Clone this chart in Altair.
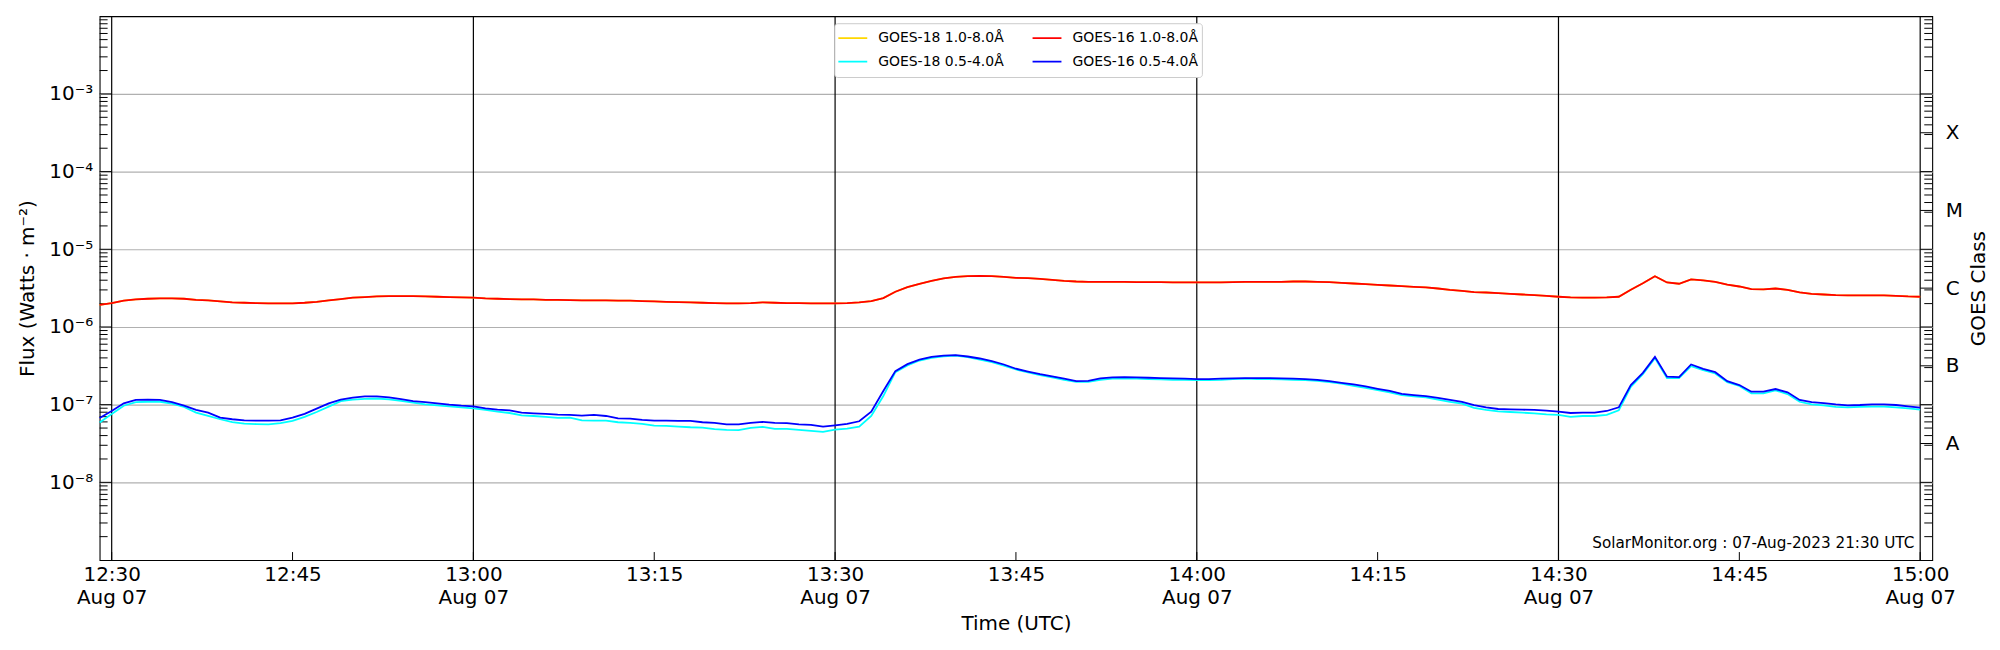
import altair as alt
import pandas as pd

FONT = "DejaVu Sans"
W, H = 1840, 546

# ---------------- data (1-minute cadence, 12:29 .. 15:00 UTC, 07-Aug-2023) ----------------
start_minute = 12 * 60 + 29
n_points = 152
times = [f"2023-08-07T{(start_minute + i) // 60:02d}:{(start_minute + i) % 60:02d}:00Z" for i in range(n_points)]

g16_long = [
    1.93e-6, 2.03e-6, 2.18e-6, 2.26e-6, 2.31e-6, 2.33e-6, 2.33e-6, 2.31e-6, 2.24e-6, 2.20e-6,
    2.13e-6, 2.07e-6, 2.05e-6, 2.03e-6, 2.01e-6, 2.01e-6, 2.01e-6, 2.05e-6, 2.11e-6, 2.20e-6,
    2.28e-6, 2.38e-6, 2.42e-6, 2.47e-6, 2.49e-6, 2.49e-6, 2.49e-6, 2.47e-6, 2.45e-6, 2.42e-6,
    2.40e-6, 2.38e-6, 2.33e-6, 2.31e-6, 2.28e-6, 2.26e-6, 2.26e-6, 2.24e-6, 2.24e-6, 2.22e-6,
    2.20e-6, 2.20e-6, 2.20e-6, 2.18e-6, 2.18e-6, 2.15e-6, 2.13e-6, 2.11e-6, 2.09e-6, 2.07e-6,
    2.05e-6, 2.03e-6, 2.01e-6, 2.01e-6, 2.03e-6, 2.07e-6, 2.05e-6, 2.03e-6, 2.03e-6, 2.01e-6,
    2.01e-6, 2.01e-6, 2.03e-6, 2.07e-6, 2.15e-6, 2.35e-6, 2.84e-6, 3.26e-6, 3.60e-6, 3.93e-6,
    4.21e-6, 4.42e-6, 4.51e-6, 4.56e-6, 4.51e-6, 4.42e-6, 4.29e-6, 4.25e-6, 4.17e-6, 4.05e-6,
    3.93e-6, 3.85e-6, 3.81e-6, 3.81e-6, 3.81e-6, 3.81e-6, 3.78e-6, 3.78e-6, 3.78e-6, 3.74e-6,
    3.74e-6, 3.74e-6, 3.74e-6, 3.74e-6, 3.78e-6, 3.81e-6, 3.81e-6, 3.81e-6, 3.81e-6, 3.85e-6,
    3.85e-6, 3.81e-6, 3.78e-6, 3.70e-6, 3.63e-6, 3.56e-6, 3.49e-6, 3.42e-6, 3.36e-6, 3.29e-6,
    3.23e-6, 3.13e-6, 3.01e-6, 2.92e-6, 2.81e-6, 2.78e-6, 2.73e-6, 2.67e-6, 2.62e-6, 2.57e-6,
    2.52e-6, 2.45e-6, 2.40e-6, 2.38e-6, 2.38e-6, 2.40e-6, 2.45e-6, 3.01e-6, 3.66e-6, 4.51e-6,
    3.74e-6, 3.60e-6, 4.09e-6, 3.97e-6, 3.81e-6, 3.52e-6, 3.32e-6, 3.07e-6, 3.04e-6, 3.13e-6,
    3.01e-6, 2.78e-6, 2.67e-6, 2.62e-6, 2.57e-6, 2.55e-6, 2.55e-6, 2.55e-6, 2.55e-6, 2.52e-6,
    2.47e-6, 2.45e-6,
]

g18_long = [
    1.93e-6, 2.03e-6, 2.18e-6, 2.26e-6, 2.31e-6, 2.33e-6, 2.33e-6, 2.31e-6, 2.24e-6, 2.20e-6,
    2.13e-6, 2.07e-6, 2.05e-6, 2.03e-6, 2.01e-6, 2.01e-6, 2.01e-6, 2.05e-6, 2.11e-6, 2.20e-6,
    2.28e-6, 2.38e-6, 2.42e-6, 2.47e-6, 2.49e-6, 2.49e-6, 2.49e-6, 2.47e-6, 2.45e-6, 2.42e-6,
    2.40e-6, 2.38e-6, 2.33e-6, 2.31e-6, 2.28e-6, 2.26e-6, 2.26e-6, 2.24e-6, 2.24e-6, 2.22e-6,
    2.20e-6, 2.20e-6, 2.20e-6, 2.18e-6, 2.18e-6, 2.15e-6, 2.13e-6, 2.11e-6, 2.09e-6, 2.07e-6,
    2.05e-6, 2.03e-6, 2.01e-6, 2.01e-6, 2.03e-6, 2.07e-6, 2.05e-6, 2.03e-6, 2.03e-6, 2.01e-6,
    2.01e-6, 2.01e-6, 2.03e-6, 2.07e-6, 2.15e-6, 2.35e-6, 2.84e-6, 3.26e-6, 3.60e-6, 3.93e-6,
    4.21e-6, 4.42e-6, 4.51e-6, 4.56e-6, 4.51e-6, 4.42e-6, 4.29e-6, 4.25e-6, 4.17e-6, 4.05e-6,
    3.93e-6, 3.85e-6, 3.81e-6, 3.81e-6, 3.81e-6, 3.81e-6, 3.78e-6, 3.78e-6, 3.78e-6, 3.74e-6,
    3.74e-6, 3.74e-6, 3.74e-6, 3.74e-6, 3.78e-6, 3.81e-6, 3.81e-6, 3.81e-6, 3.81e-6, 3.85e-6,
    3.85e-6, 3.81e-6, 3.78e-6, 3.70e-6, 3.63e-6, 3.56e-6, 3.49e-6, 3.42e-6, 3.36e-6, 3.29e-6,
    3.23e-6, 3.13e-6, 3.01e-6, 2.92e-6, 2.81e-6, 2.78e-6, 2.73e-6, 2.67e-6, 2.62e-6, 2.57e-6,
    2.52e-6, 2.45e-6, 2.40e-6, 2.38e-6, 2.38e-6, 2.40e-6, 2.45e-6, 3.01e-6, 3.66e-6, 4.51e-6,
    3.74e-6, 3.60e-6, 4.09e-6, 3.97e-6, 3.81e-6, 3.52e-6, 3.32e-6, 3.07e-6, 3.04e-6, 3.13e-6,
    3.01e-6, 2.78e-6, 2.67e-6, 2.62e-6, 2.57e-6, 2.55e-6, 2.55e-6, 2.55e-6, 2.55e-6, 2.52e-6,
    2.47e-6, 2.45e-6,
]

g16_short = [
    6.75e-8, 8.29e-8, 1.04e-7, 1.15e-7, 1.16e-7, 1.15e-7, 1.08e-7, 9.70e-8, 8.55e-8, 7.89e-8,
    6.81e-8, 6.49e-8, 6.29e-8, 6.23e-8, 6.23e-8, 6.29e-8, 6.80e-8, 7.60e-8, 8.90e-8, 1.04e-7,
    1.16e-7, 1.23e-7, 1.28e-7, 1.28e-7, 1.24e-7, 1.18e-7, 1.11e-7, 1.08e-7, 1.04e-7, 1.00e-7,
    9.70e-8, 9.52e-8, 8.97e-8, 8.63e-8, 8.46e-8, 7.89e-8, 7.74e-8, 7.60e-8, 7.45e-8, 7.38e-8,
    7.23e-8, 7.38e-8, 7.15e-8, 6.68e-8, 6.62e-8, 6.36e-8, 6.23e-8, 6.23e-8, 6.17e-8, 6.17e-8,
    5.94e-8, 5.82e-8, 5.59e-8, 5.59e-8, 5.82e-8, 6.00e-8, 5.82e-8, 5.77e-8, 5.59e-8, 5.49e-8,
    5.22e-8, 5.43e-8, 5.65e-8, 6.11e-8, 8.13e-8, 1.50e-7, 2.70e-7, 3.32e-7, 3.81e-7, 4.12e-7,
    4.29e-7, 4.33e-7, 4.17e-7, 3.93e-7, 3.63e-7, 3.29e-7, 2.90e-7, 2.67e-7, 2.47e-7, 2.31e-7,
    2.16e-7, 2.01e-7, 2.03e-7, 2.18e-7, 2.24e-7, 2.26e-7, 2.24e-7, 2.22e-7, 2.20e-7, 2.18e-7,
    2.16e-7, 2.13e-7, 2.13e-7, 2.16e-7, 2.18e-7, 2.20e-7, 2.20e-7, 2.20e-7, 2.18e-7, 2.16e-7,
    2.13e-7, 2.09e-7, 2.01e-7, 1.91e-7, 1.82e-7, 1.72e-7, 1.60e-7, 1.50e-7, 1.38e-7, 1.33e-7,
    1.29e-7, 1.22e-7, 1.15e-7, 1.09e-7, 9.90e-8, 9.24e-8, 8.80e-8, 8.71e-8, 8.63e-8, 8.55e-8,
    8.38e-8, 8.13e-8, 7.81e-8, 7.89e-8, 7.89e-8, 8.29e-8, 9.24e-8, 1.79e-7, 2.57e-7, 4.12e-7,
    2.29e-7, 2.26e-7, 3.29e-7, 2.89e-7, 2.62e-7, 2.01e-7, 1.79e-7, 1.47e-7, 1.47e-7, 1.59e-7,
    1.44e-7, 1.15e-7, 1.08e-7, 1.05e-7, 1.01e-7, 9.80e-8, 9.90e-8, 1.01e-7, 1.01e-7, 9.90e-8,
    9.52e-8, 9.15e-8,
]

g18_short = [
    5.88e-8, 7.60e-8, 9.70e-8, 1.08e-7, 1.09e-7, 1.09e-7, 1.03e-7, 9.34e-8, 7.89e-8, 7.15e-8,
    6.49e-8, 5.95e-8, 5.70e-8, 5.62e-8, 5.56e-8, 5.77e-8, 6.20e-8, 6.95e-8, 8.05e-8, 9.43e-8,
    1.11e-7, 1.16e-7, 1.19e-7, 1.20e-7, 1.17e-7, 1.12e-7, 1.06e-7, 1.01e-7, 9.80e-8, 9.52e-8,
    9.24e-8, 8.97e-8, 8.55e-8, 8.13e-8, 7.81e-8, 7.29e-8, 7.15e-8, 6.95e-8, 6.75e-8, 6.81e-8,
    6.29e-8, 6.23e-8, 6.23e-8, 5.94e-8, 5.82e-8, 5.65e-8, 5.38e-8, 5.33e-8, 5.22e-8, 5.12e-8,
    5.07e-8, 4.83e-8, 4.73e-8, 4.69e-8, 5.02e-8, 5.17e-8, 4.88e-8, 4.88e-8, 4.73e-8, 4.59e-8,
    4.46e-8, 4.78e-8, 4.93e-8, 5.22e-8, 7.15e-8, 1.29e-7, 2.62e-7, 3.19e-7, 3.70e-7, 4.00e-7,
    4.20e-7, 4.29e-7, 4.08e-7, 3.81e-7, 3.52e-7, 3.19e-7, 2.84e-7, 2.60e-7, 2.40e-7, 2.24e-7,
    2.09e-7, 1.97e-7, 1.97e-7, 2.09e-7, 2.16e-7, 2.18e-7, 2.16e-7, 2.13e-7, 2.11e-7, 2.09e-7,
    2.09e-7, 2.07e-7, 2.07e-7, 2.09e-7, 2.13e-7, 2.16e-7, 2.13e-7, 2.13e-7, 2.11e-7, 2.09e-7,
    2.07e-7, 2.03e-7, 1.95e-7, 1.86e-7, 1.75e-7, 1.65e-7, 1.54e-7, 1.44e-7, 1.33e-7, 1.28e-7,
    1.24e-7, 1.16e-7, 1.09e-7, 1.03e-7, 9.10e-8, 8.55e-8, 8.21e-8, 8.05e-8, 7.89e-8, 7.74e-8,
    7.52e-8, 7.38e-8, 6.95e-8, 7.15e-8, 7.15e-8, 7.38e-8, 8.46e-8, 1.70e-7, 2.47e-7, 3.97e-7,
    2.20e-7, 2.20e-7, 3.13e-7, 2.78e-7, 2.52e-7, 1.95e-7, 1.74e-7, 1.40e-7, 1.40e-7, 1.53e-7,
    1.37e-7, 1.09e-7, 1.01e-7, 9.80e-8, 9.34e-8, 9.24e-8, 9.34e-8, 9.43e-8, 9.43e-8, 9.24e-8,
    8.97e-8, 8.63e-8,
]

# legend order (row-major, 2 columns) and colours
legend_names = ["GOES-18 1.0-8.0Å", "GOES-18 0.5-4.0Å", "GOES-16 1.0-8.0Å", "GOES-16 0.5-4.0Å"]
legend_colors = ["#ffd700", "#00ffff", "#ff0000", "#0000ff"]
# drawing order
draw_order = [
    ("GOES-18 1.0-8.0Å", g18_long),
    ("GOES-16 1.0-8.0Å", g16_long),
    ("GOES-18 0.5-4.0Å", g18_short),
    ("GOES-16 0.5-4.0Å", g16_short),
]

# axes / ticks
x_tick_times = ["12:30", "12:45", "13:00", "13:15", "13:30", "13:45", "14:00",
                "14:15", "14:30", "14:45", "15:00"]
half_hour_times = ["12:30", "13:00", "13:30", "14:00", "14:30", "15:00"]
y_major_values = [1e-8, 1e-7, 1e-6, 1e-5, 1e-4, 1e-3]
y_major_labels = ["10⁻⁸", "10⁻⁷", "10⁻⁶", "10⁻⁵", "10⁻⁴", "10⁻³"]
y_minor_values = [m * 10.0 ** e for e in range(-9, -2) for m in range(2, 10)]
class_values = [10 ** -7.5, 10 ** -6.5, 10 ** -5.5, 10 ** -4.5, 10 ** -3.5]
class_labels = ["A", "B", "C", "M", "X"]
annotation = "SolarMonitor.org : 07-Aug-2023 21:30 UTC"

# ---------------- build ----------------
rows = []
for name, vals in draw_order:
    for t, v in zip(times, vals):
        rows.append({"time": t, "flux": v, "series": name})
df = pd.DataFrame(rows)


def dt(hm):
    h, m = hm.split(":")
    return alt.DateTime(year=2023, month=8, date=7, hours=int(h), minutes=int(m), utc=True)


x_scale = alt.Scale(type="utc", domain=[dt("12:29"), dt("15:01")], nice=False)
y_scale = alt.Scale(type="log", domain=[1e-9, 1e-2], nice=False)

x_label_expr = (
    "(utcFormat(datum.value, '%M') == '15' || utcFormat(datum.value, '%M') == '45') ? "
    "utcFormat(datum.value, '%H:%M') : "
    "[utcFormat(datum.value, '%H:%M'), utcFormat(datum.value, '%b %d')]"
)
x_axis = alt.Axis(
    values=[dt(t) for t in x_tick_times], labelExpr=x_label_expr,
    ticks=False, domain=False, grid=False,
    labelFont=FONT, labelFontSize=20, labelColor="black", labelPadding=5,
    labelLineHeight=22.5, labelBaseline="top", labelFlush=False, labelOverlap=False,
    title="Time (UTC)", titleFont=FONT, titleFontSize=20, titleFontWeight="normal",
    titleColor="black", titleBaseline="alphabetic", titleY=70, titleX=W / 2, titleAlign="center",
)

y_expr = " : ".join(
    f"datum.value < {v * 3:.3g} ? '{lab}'" for v, lab in zip(y_major_values[:-1], y_major_labels[:-1])
) + f" : '{y_major_labels[-1]}'"
y_axis = alt.Axis(
    values=y_major_values, labelExpr=y_expr,
    ticks=False, domain=False, grid=True, gridColor="#b0b0b0", gridWidth=1.1,
    labelFont=FONT, labelFontSize=20, labelColor="black", labelPadding=7,
    labelBaseline="middle", labelFlush=False, labelOverlap=False,
    title="Flux (Watts · m⁻²)", titleFont=FONT, titleFontSize=20, titleFontWeight="normal",
    titleColor="black", titleAngle=270, titleBaseline="alphabetic", titleX=-66, titleY=H / 2,
    titleAlign="center",
)

class_expr = " : ".join(
    f"datum.value < {v * 1.5:.3g} ? '{lab}'" for v, lab in zip(class_values[:-1], class_labels[:-1])
) + f" : '{class_labels[-1]}'"
right_axis = alt.Axis(
    orient="right", values=class_values, labelExpr=class_expr,
    ticks=False, domain=False, grid=False,
    labelFont=FONT, labelFontSize=20, labelColor="black", labelPadding=13,
    labelBaseline="middle", labelAlign="left", labelFlush=False, labelOverlap=False,
    title="GOES Class", titleFont=FONT, titleFontSize=20, titleFontWeight="normal",
    titleColor="black", titleAngle=270, titleBaseline="alphabetic", titleX=52, titleY=H / 2,
    titleAlign="center",
)

legend = alt.Legend(
    title=None, orient="none", legendX=737.7, legendY=7, columns=2,
    symbolType="stroke", symbolSize=841, symbolStrokeWidth=1.8,
    labelFont=FONT, labelFontSize=14, labelColor="black", labelOffset=10, labelLimit=300,
    columnPadding=27, rowPadding=0, clipHeight=23.3, padding=3,
    strokeColor="#cccccc", fillColor="white", cornerRadius=3,
)
color = alt.Color("series:N", scale=alt.Scale(domain=legend_names, range=legend_colors), legend=legend)

X_T = alt.X("t:T", scale=x_scale, axis=x_axis)
Y_LEFT = alt.Y("v:Q", scale=y_scale, axis=y_axis)
Y_RIGHT = alt.Y("v:Q", scale=y_scale, axis=right_axis)

base = alt.Chart(df)
series_layers = [
    base.transform_filter(alt.datum.series == name).mark_line(strokeWidth=1.8).encode(
        x=alt.X("time:T", scale=x_scale, axis=x_axis),
        y=alt.Y("flux:Q", scale=y_scale, axis=y_axis),
        color=color,
    )
    for name, _ in draw_order
]

vlines = alt.Chart(pd.DataFrame({"t": [f"2023-08-07T{t}:00Z" for t in half_hour_times]})).mark_rule(
    color="black", strokeWidth=1.2
).encode(x=X_T)

xticks = alt.Chart(pd.DataFrame({"t": [f"2023-08-07T{t}:00Z" for t in x_tick_times]})).mark_rule(
    color="black", strokeWidth=1
).encode(x=X_T, y=alt.value(H - 8), y2=alt.value(H))

left_major = alt.Chart(pd.DataFrame({"v": y_major_values})).mark_rule(color="black", strokeWidth=1).encode(
    y=Y_LEFT, x=alt.value(0), x2=alt.value(12))
left_minor = alt.Chart(pd.DataFrame({"v": y_minor_values})).mark_rule(color="black", strokeWidth=1).encode(
    y=Y_LEFT, x=alt.value(0), x2=alt.value(8))

note = alt.Chart(pd.DataFrame({"label": [annotation]})).mark_text(
    align="right", baseline="alphabetic", font=FONT, fontSize=15.3, color="black"
).encode(x=alt.value(1822), y=alt.value(534.3), text="label:N")

inner = alt.layer(vlines, xticks, left_major, left_minor, *series_layers, note)

right_major = alt.Chart(pd.DataFrame({"v": y_major_values + class_values})).mark_rule(
    color="black", strokeWidth=1
).encode(y=Y_RIGHT, x=alt.value(W - 12), x2=alt.value(W))
right_minor = alt.Chart(pd.DataFrame({"v": y_minor_values})).mark_rule(color="black", strokeWidth=1).encode(
    y=Y_RIGHT, x=alt.value(W - 8), x2=alt.value(W))
right_group = alt.layer(right_major, right_minor)

chart = alt.layer(inner, right_group).resolve_scale(y="independent").properties(
    width=W, height=H,
    padding={"left": 92, "top": 7, "right": 60, "bottom": 76},
    autosize=alt.AutoSizeParams(type="none"),
    background="white",
).configure(font=FONT).configure_view(stroke="black", strokeWidth=1.1)

chart.save("out.html", embed_options={"renderer": "svg", "actions": False})
